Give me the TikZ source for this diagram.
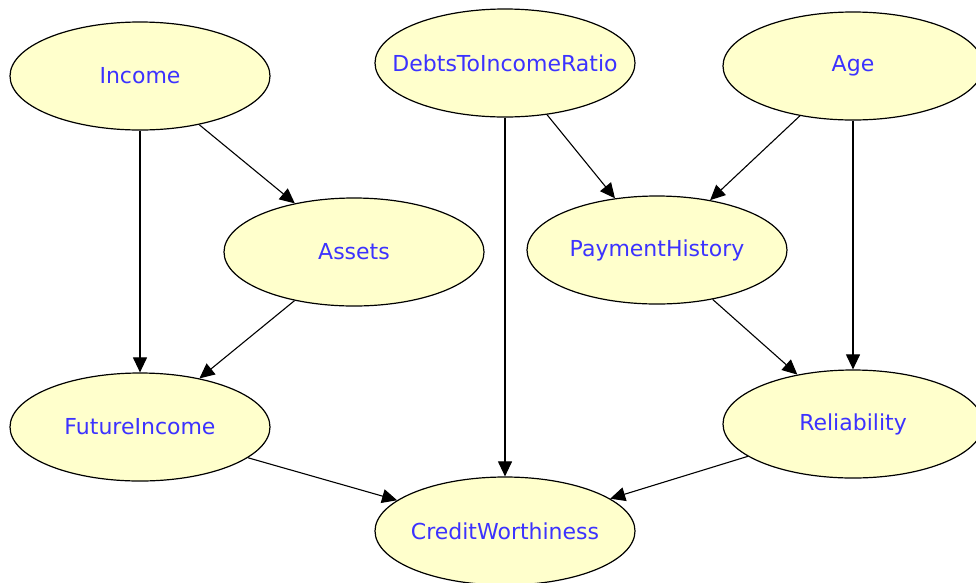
\documentclass[tikz,border=0pt]{standalone}
\usepackage{fontspec}
\setmainfont{DejaVu Sans}
\usetikzlibrary{shapes.geometric,arrows.meta}
\definecolor{nodefill}{RGB}{255,255,204}
\definecolor{nodetext}{RGB}{60,50,255}
\newcommand{\nlabel}[1]{\makebox[0pt]{#1}}
\tikzset{
  bnode/.style={ellipse,draw=black,line width=1.2pt,fill=nodefill,
    minimum width=260pt,minimum height=108pt,inner sep=0pt,
    text=nodetext,font=\fontsize{22}{24}\selectfont},
  edge/.style={draw=black,line width=1.1pt,-{Triangle[length=15pt,width=14pt]}}
}
\begin{document}
\begin{tikzpicture}[x=1pt,y=-1pt]
\clip (0,0) rectangle (976,582);
\fill[white] (0,0) rectangle (976,582);
\node[bnode] (inc) at (140,76) {\nlabel{Income}};
\node[bnode] (dti) at (505,63) {\nlabel{DebtsToIncomeRatio}};
\node[bnode] (age) at (853,66) {\nlabel{Age}};
\node[bnode] (ass) at (354,252) {\nlabel{Assets}};
\node[bnode] (ph) at (657,250) {\nlabel{PaymentHistory}};
\node[bnode] (fi) at (140,427) {\nlabel{FutureIncome}};
\node[bnode] (rel) at (853,424) {\nlabel{Reliability}};
\node[bnode] (cw) at (505,531) {\nlabel{CreditWorthiness}};
\draw[edge] (inc) -- (ass);
\draw[edge] (inc) -- (fi);
\draw[edge] (dti) -- (ph);
\draw[edge] (dti) -- (cw);
\draw[edge] (age) -- (ph);
\draw[edge] (age) -- (rel);
\draw[edge] (ass) -- (fi);
\draw[edge] (ph) -- (rel);
\draw[edge] (fi) -- (cw);
\draw[edge] (rel) -- (cw);
\end{tikzpicture}
\end{document}
